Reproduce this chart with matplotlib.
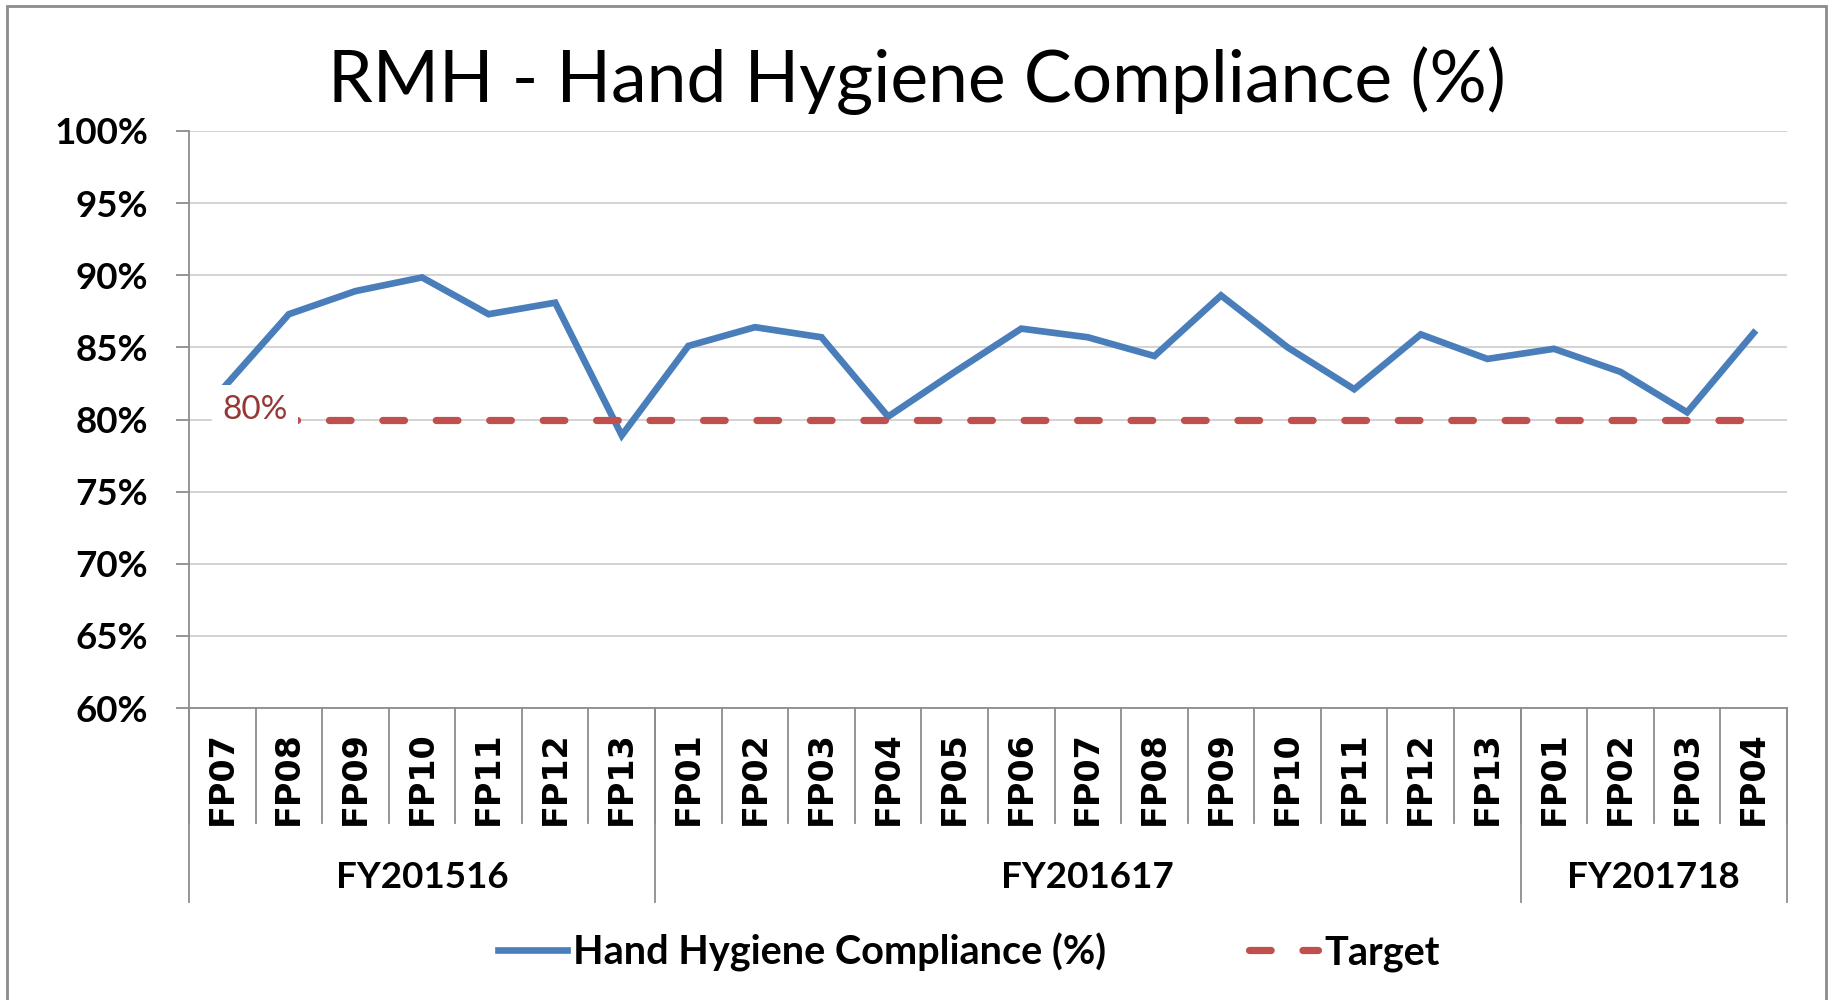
import matplotlib
matplotlib.use("Agg")
import matplotlib.pyplot as plt
import matplotlib.transforms as mtransforms
from matplotlib.patches import Rectangle
from matplotlib.ticker import FuncFormatter, MultipleLocator

# data
periods = ["FP07", "FP08", "FP09", "FP10", "FP11", "FP12", "FP13",
           "FP01", "FP02", "FP03", "FP04", "FP05", "FP06", "FP07", "FP08",
           "FP09", "FP10", "FP11", "FP12", "FP13",
           "FP01", "FP02", "FP03", "FP04"]
years = ["FY201516", "FY201617", "FY201718"]
year_sizes = [7, 13, 4]
compliance = [82.1, 87.3, 88.9, 89.85, 87.3, 88.1, 78.9,
              85.1, 86.4, 85.7, 80.2, 83.3, 86.3, 85.7, 84.4,
              88.6, 85.0, 82.1, 85.9, 84.2,
              84.9, 83.3, 80.5, 86.0]
target = [80.0] * len(periods)

BLUE = "#4A7EBB"
RED = "#C0504D"
GRID = "#D0D0D0"
AXIS = "#8C8C8C"
FONT = "Lato"

plt.rcParams["font.family"] = [FONT, "DejaVu Sans"]

fig = plt.figure(figsize=(18.33, 10), dpi=100)
ax = fig.add_axes([0.1031, 0.292, 0.8718, 0.577])

x = list(range(len(periods)))
ax.plot(x, compliance, color=BLUE, lw=4.8, solid_joinstyle="miter", zorder=3,
        label="Hand Hygiene Compliance (%)")
ax.plot(x, target, color=RED, lw=5.2, dashes=(3.0, 4.4), dash_capstyle="round",
        zorder=3, label="Target")

# data label on the first target point
ax.annotate("80%", xy=(x[0], target[0]), xytext=(0, 7), textcoords="offset points",
            ha="left", va="center", fontsize=24, color="#953735",
            bbox=dict(boxstyle="square,pad=0.3", fc="white", ec="none"), zorder=5)

ax.set_xlim(-0.5, len(periods) - 0.5)
ax.set_ylim(60, 100)
ax.yaxis.set_major_locator(MultipleLocator(5))
ax.yaxis.set_major_formatter(FuncFormatter(lambda v, p: f"{v:.0f}%"))
ax.grid(axis="y", color=GRID, lw=1.3)
ax.set_axisbelow(True)
for s in ["top", "right"]:
    ax.spines[s].set_visible(False)
for s in ["left", "bottom"]:
    ax.spines[s].set_color(AXIS)
    ax.spines[s].set_linewidth(1.3)
ax.tick_params(axis="y", length=9.5, width=1.3, color=AXIS, pad=20, labelsize=26.5)
for t in ax.get_yticklabels():
    t.set_fontweight("bold")
ax.set_xticks([])

# category axis: period labels, separators, year groups
trans = mtransforms.blended_transform_factory(ax.transData, ax.transAxes)
for i, p in enumerate(periods):
    ax.text(i, -0.04, p, transform=trans, rotation=90, ha="center", va="top",
            fontsize=24, fontweight="bold", family="DejaVu Sans")
for i in range(len(periods) + 1):
    ax.plot([i - 0.5, i - 0.5], [0, -0.199], transform=trans, color=AXIS,
            lw=1.3, clip_on=False)
start = 0
for name, n in zip(years, year_sizes):
    ax.plot([start - 0.5, start - 0.5], [0, -0.336], transform=trans, color=AXIS,
            lw=1.3, clip_on=False)
    ax.text(start + (n - 1) / 2, -0.293, name, transform=trans, ha="center",
            va="center", fontsize=26.5, fontweight="bold")
    start += n
ax.plot([start - 0.5, start - 0.5], [0, -0.336], transform=trans, color=AXIS,
        lw=1.3, clip_on=False)

fig.text(0.5, 0.919, "RMH - Hand Hygiene Compliance (%)", ha="center", va="center",
         fontsize=51.5)

fig.legend(loc="center", bbox_to_anchor=(0.5285, 0.048), ncol=2, frameon=False,
           prop={"weight": "bold", "size": 28.5}, handlelength=1.75,
           handletextpad=0.15, columnspacing=3.6)

# chart border
fig.patches.append(Rectangle((7 / 1833, -0.05), 1819 / 1833, 1.044, transform=fig.transFigure,
                             fill=False, ec=AXIS, lw=2))

fig.savefig("out.png", dpi=100)
